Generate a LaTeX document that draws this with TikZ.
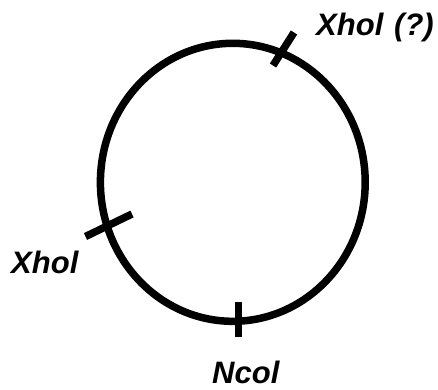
\documentclass[tikz,border=0pt]{standalone}
\usepackage{fontspec}
\setmainfont{Liberation Sans}
\begin{document}
\begin{tikzpicture}[x=1pt,y=-1pt,
  ring/.style={line width=7.5pt},
  tick/.style={line width=7.5pt,line cap=butt},
  lbl/.style={font=\fontsize{31}{31}\selectfont\bfseries\itshape,inner sep=0pt,anchor=base west}]
  \useasboundingbox (0,0) rectangle (438,389);
  % chromosome ring
  \coordinate (c) at (232.8,182.3);
  \draw[ring] (c) ellipse [x radius=132.4, y radius=139];
  % site marks crossing the ring
  \coordinate (t1a) at (294,32.5);   \coordinate (t1b) at (273,65.5);
  \coordinate (t2a) at (132,214);    \coordinate (t2b) at (85.5,236.5);
  \coordinate (t3a) at (238.5,301.5); \coordinate (t3b) at (238.5,336.5);
  \draw[tick] (t1a) -- (t1b);
  \draw[tick] (t2a) -- (t2b);
  \draw[tick] (t3a) -- (t3b);
  % site labels
  \node[lbl] (xq) at (316,35) {Xhol\hspace{0.35em}(?)};
  \node[lbl] (xh) at (11,273) {Xhol};
  \node[lbl] (nc) at (212,383) {Ncol};
\end{tikzpicture}
\end{document}
